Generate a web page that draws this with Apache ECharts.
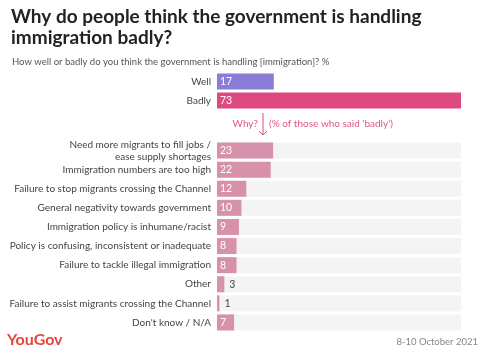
<!DOCTYPE html>
<html>
<head>
<meta charset="utf-8">
<script src="https://cdn.jsdelivr.net/npm/echarts@6/dist/echarts.min.js"></script>
<style>
html, body { margin: 0; padding: 0; background: #fff; }
#main { width: 483px; height: 352px; }
</style>
</head>
<body>
<div id="main"></div>
<script>
// top: well / badly
var topCats = ['Well', 'Badly'];
var topValues = [17, 73];
var topColors = ['#8a7dd8', '#e0497f'];

// bottom: reasons given by those who said badly
var reasonCats = [
    'Need more migrants to fill jobs /\nease supply shortages',
    'Immigration numbers are too high',
    'Failure to stop migrants crossing the Channel',
    'General negativity towards government',
    'Immigration policy is inhumane/racist',
    'Policy is confusing, inconsistent or inadequate',
    'Failure to tackle illegal immigration',
    'Other',
    'Failure to assist migrants crossing the Channel',
    "Don't know / N/A"
];
var reasonValues = [23, 22, 12, 10, 9, 8, 8, 3, 1, 7];

var FONT = 'Lato';

var myChart = echarts.init(document.getElementById('main'));

var topData = topValues.map(function (v, i) {
    return { value: v, itemStyle: { color: topColors[i] } };
});
// small bars get the number outside, in dark text
var reasonData = reasonValues.map(function (v) {
    if (v < 5) {
        return { value: v, label: { position: 'right', color: '#444', offset: [0, 0] } };
    }
    return v;
});

var option = {
    animation: false,
    textStyle: { fontFamily: FONT },
    title: [
        {
            text: 'Why do people think the government is handling\nimmigration badly?',
            left: 6, top: 1,
            textStyle: { fontFamily: FONT, fontSize: 19, fontWeight: 'bold', color: '#222', lineHeight: 21 }
        },
        {
            text: 'How well or badly do you think the government is handling [immigration]? %',
            left: 7, top: 52,
            textStyle: { fontFamily: FONT, fontSize: 9.5, fontWeight: 'normal', color: '#555' }
        }
    ],
    grid: [
        { left: 217, right: 22, top: 72, height: 38 },
        { left: 217, right: 22, top: 141, height: 191 }
    ],
    xAxis: [
        { gridIndex: 0, type: 'value', min: 0, max: 73, show: false },
        { gridIndex: 1, type: 'value', min: 0, max: 100, show: false }
    ],
    yAxis: [
        {
            gridIndex: 0, type: 'category', data: topCats, inverse: true,
            axisLine: { show: false }, axisTick: { show: false },
            axisLabel: { color: '#444', fontSize: 10, margin: 6, fontFamily: FONT }
        },
        {
            gridIndex: 1, type: 'category', data: reasonCats, inverse: true,
            axisLine: { show: false }, axisTick: { show: false },
            axisLabel: { color: '#444', fontSize: 10, margin: 6, lineHeight: 12, fontFamily: FONT }
        }
    ],
    series: [
        {
            type: 'bar', xAxisIndex: 0, yAxisIndex: 0,
            data: topData, barWidth: 16,
            label: { show: true, position: 'insideLeft', offset: [-2, 0], color: '#fff', fontSize: 10.5, fontFamily: FONT }
        },
        {
            type: 'bar', xAxisIndex: 1, yAxisIndex: 1,
            data: reasonData, barWidth: 16,
            itemStyle: { color: '#d891ab' },
            showBackground: true,
            backgroundStyle: { color: '#f4f4f4' },
            label: { show: true, position: 'insideLeft', offset: [-2, 0], color: '#fff', fontSize: 10.5, fontFamily: FONT }
        }
    ],
    graphic: [
        {
            type: 'line', shape: { x1: 263, y1: 113, x2: 263, y2: 135 },
            style: { stroke: '#e0497f', lineWidth: 1 }
        },
        {
            type: 'polyline', shape: { points: [[259, 131], [263, 135], [267, 131]] },
            style: { stroke: '#e0497f', lineWidth: 1, fill: null }
        },
        {
            type: 'text', x: 258, y: 124,
            style: { text: 'Why?', fill: '#e0578a', font: '10px ' + FONT, textAlign: 'right', textVerticalAlign: 'middle' }
        },
        {
            type: 'text', x: 269, y: 124,
            style: { text: "(% of those who said 'badly')", fill: '#e0578a', font: '10px ' + FONT, textAlign: 'left', textVerticalAlign: 'middle' }
        },
        {
            type: 'text', x: 7, y: 340,
            style: { text: 'YouGov', fill: '#e8453c', font: 'bold 16px ' + FONT, textAlign: 'left', textVerticalAlign: 'middle' }
        },
        {
            type: 'text', x: 478, y: 342,
            style: { text: '8-10 October 2021', fill: '#888', font: '9.5px ' + FONT, textAlign: 'right', textVerticalAlign: 'middle' }
        }
    ]
};

myChart.setOption(option);
</script>
</body>
</html>
